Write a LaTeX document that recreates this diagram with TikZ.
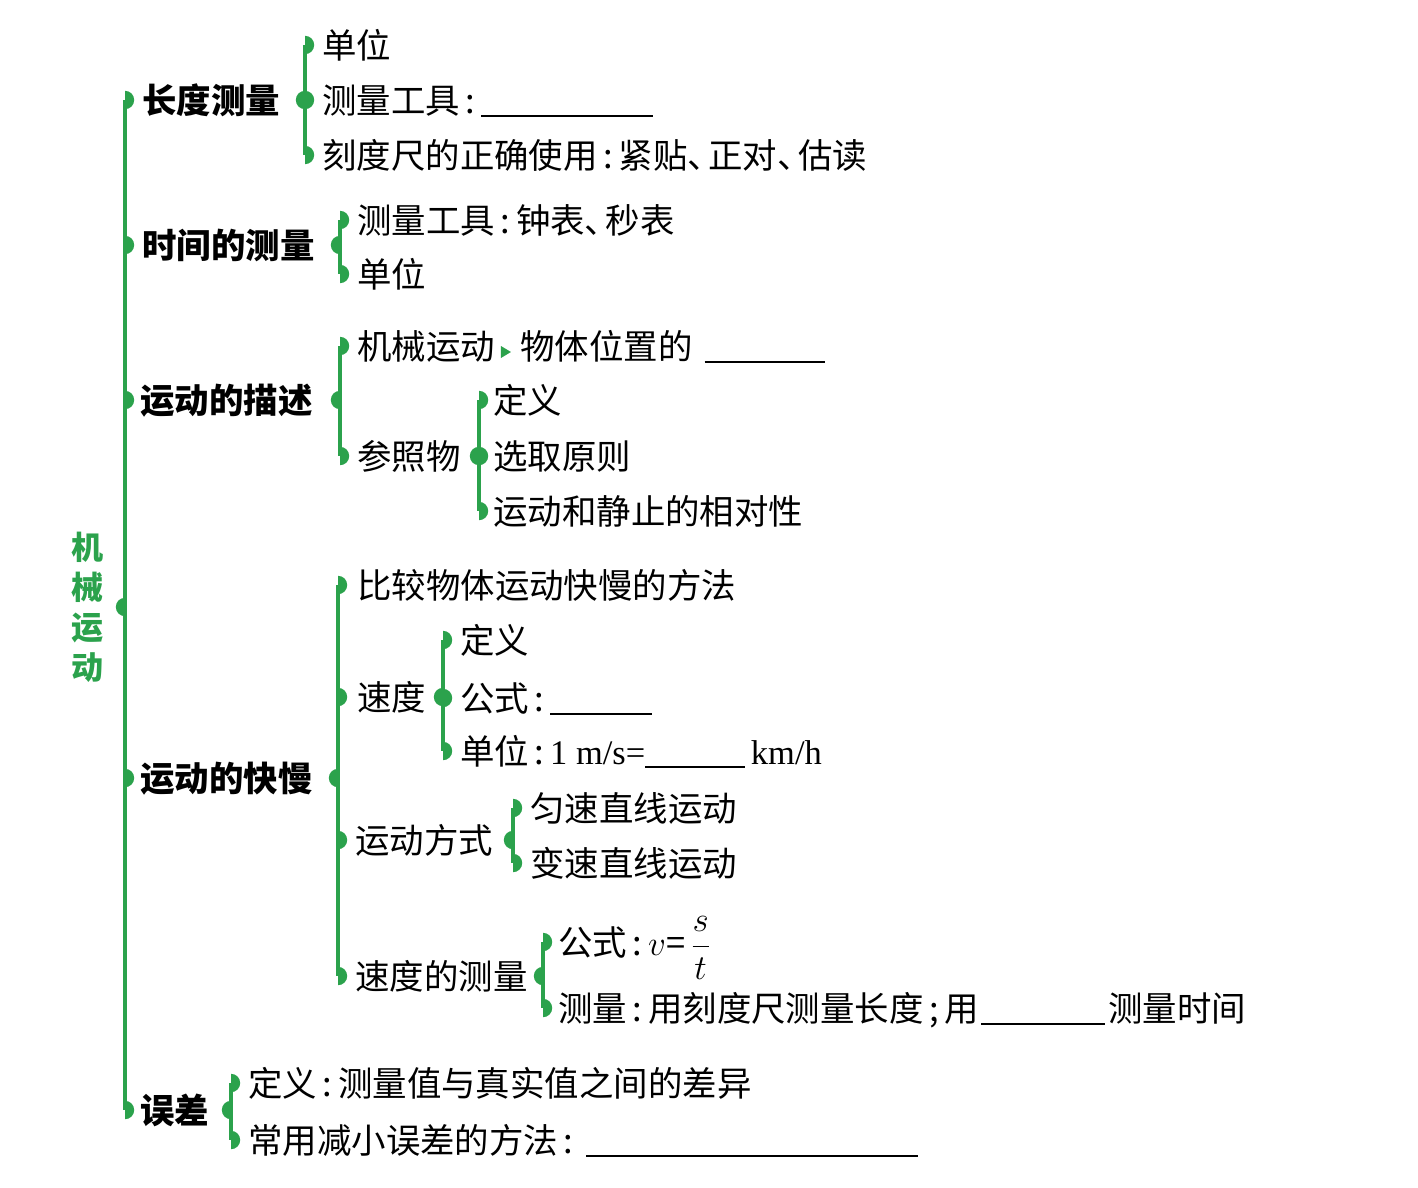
\documentclass[tikz,border=0pt]{standalone}
\usepackage{fontspec}
\setmainfont{Liberation Serif}
\newfontfamily\cjk{Noto Sans CJK SC}
\definecolor{cTree}{HTML}{2BA24C}
\newcommand{\blank}[1]{\rule[-0.12em]{#1}{0.5mm}}
\newcommand{\dun}{、\hspace{-0.4em}}
\tikzset{
  base/.style ={anchor=west, inner sep=0pt, text height=21.5pt, text depth=3pt},
  head/.style ={base, font=\cjk\bfseries\fontsize{24.5}{29}\selectfont},
  item/.style ={base, font=\cjk\fontsize{24.5}{29}\selectfont},
  title/.style={font=\cjk\bfseries\fontsize{22.8}{28.4}\selectfont, text=cTree,
                align=center, inner sep=0pt},
  brk/.style  ={draw=cTree, line width=0.9mm},
  rb/.pic     ={\fill[cTree] (0,2.3mm) arc[start angle=90,end angle=-90,radius=2.3mm] -- cycle;},
  lb/.pic     ={\fill[cTree] (0,2.3mm) arc[start angle=90,end angle=270,radius=2.3mm] -- cycle;},
}

\begin{document}
\begin{tikzpicture}[x=0.25mm, y=-0.25mm]
\useasboundingbox (0,0) rectangle (1418,1188);

\node[title] (root) at (88,607) {机\\械\\运\\动};

% first level
\node[head] (len)  at (142,100) {长度测量};
\node[head] (time) at (142,245) {时间的测量};
\node[head] (desc) at (140,400) {运动的描述};
\node[head] (fast) at (140,778) {运动的快慢};
\node[head] (err)  at (140,1110) {误差};

% length
\node[item] (lenA) at (322,45)  {单位};
\node[item] (lenB) at (322,100) {测量工具\,:\,\blank{43mm}};
\node[item] (lenC) at (322,155) {刻度尺的正确使用\,:\,紧贴\dun 正对\dun 估读};

% time
\node[item] (timeA) at (357,220) {测量工具\,:\,钟表\dun 秒表};
\node[item] (timeB) at (357,274) {单位};

% description
\node[item] (descA) at (357,346) {机械运动};
\node[item] (posn)  at (520,346) {物体位置的\hspace{0.35em}\blank{30mm}};
\node[item] (descB) at (357,456) {参照物};
\node[item] (refA)  at (493,400) {定义};
\node[item] (refB)  at (493,456) {选取原则};
\node[item] (refC)  at (493,511) {运动和静止的相对性};

% speed
\node[item] (fastA) at (357,585) {比较物体运动快慢的方法};
\node[item] (fastB) at (357,697) {速度};
\node[item] (fastC) at (355,840) {运动方式};
\node[item] (fastD) at (355,976) {速度的测量};
\node[item] (velA)  at (460,640) {定义};
\node[item] (velB)  at (460,698) {公式\,:\,\blank{25.5mm}};
\node[item] (velC)  at (460,751) {单位\,:\,{\rmfamily 1 m/s=}\blank{25mm}\,{\rmfamily km/h}};
\node[item] (modeA) at (530,808) {匀速直线运动};
\node[item] (modeB) at (530,863) {变速直线运动};
\node[item] (measA) at (558,942) {公式\,:\,$v$=\,$\displaystyle\frac{s}{t}$};
\node[item] (measB) at (558,1008) {测量\,:\,用刻度尺测量长度\,;\,用\hspace{0.05em}\blank{31mm}\hspace{0.1em}测量时间};

% error
\node[item] (errA) at (248,1083) {定义\,:\,测量值与真实值之间的差异};
\node[item] (errB) at (248,1140) {常用减小误差的方法\,:\,\hspace{0.2em}\blank{83mm}};

% bracket positions
\coordinate (kMain) at (125,0); \coordinate (kLen)  at (305,0);
\coordinate (kTime) at (340,0); \coordinate (kDesc) at (340,0);
\coordinate (kRef)  at (479,0); \coordinate (kFast) at (338,0);
\coordinate (kVel)  at (443,0); \coordinate (kMode) at (513,0);
\coordinate (kMeas) at (543,0); \coordinate (kErr)  at (231,0);

\draw[brk] (kMain |- len.west) -- (kMain |- err.west);
\pic at (kMain |- root) {lb};
\pic at (kMain |- len.west) {rb}; \pic at (kMain |- time.west) {rb};
\pic at (kMain |- desc.west) {rb}; \pic at (kMain |- fast.west) {rb};
\pic at (kMain |- err.west) {rb};

\draw[brk] (kLen |- lenA.west) -- (kLen |- lenC.west);
\pic at (kLen |- len.west) {lb};
\pic at (kLen |- lenA.west) {rb}; \pic at (kLen |- lenB.west) {rb}; \pic at (kLen |- lenC.west) {rb};

\draw[brk] (kTime |- timeA.west) -- (kTime |- timeB.west);
\pic at (kTime |- time.west) {lb};
\pic at (kTime |- timeA.west) {rb}; \pic at (kTime |- timeB.west) {rb};

\draw[brk] (kDesc |- descA.west) -- (kDesc |- descB.west);
\pic at (kDesc |- desc.west) {lb};
\pic at (kDesc |- descA.west) {rb}; \pic at (kDesc |- descB.west) {rb};
\fill[cTree] ([xshift=1.4mm,yshift=-1.5mm]descA.east) -- ++(0,1.5mm) -- ++(2.5mm,-1.5mm)
  -- ++(-2.5mm,-1.5mm) -- cycle;

\draw[brk] (kRef |- refA.west) -- (kRef |- refC.west);
\pic at (kRef |- descB.west) {lb};
\pic at (kRef |- refA.west) {rb}; \pic at (kRef |- refB.west) {rb}; \pic at (kRef |- refC.west) {rb};

\draw[brk] (kFast |- fastA.west) -- (kFast |- fastD.west);
\pic at (kFast |- fast.west) {lb};
\pic at (kFast |- fastA.west) {rb}; \pic at (kFast |- fastB.west) {rb};
\pic at (kFast |- fastC.west) {rb}; \pic at (kFast |- fastD.west) {rb};

\draw[brk] (kVel |- velA.west) -- (kVel |- velC.west);
\pic at (kVel |- fastB.west) {lb};
\pic at (kVel |- velA.west) {rb}; \pic at (kVel |- velB.west) {rb}; \pic at (kVel |- velC.west) {rb};

\draw[brk] (kMode |- modeA.west) -- (kMode |- modeB.west);
\pic at (kMode |- fastC.west) {lb};
\pic at (kMode |- modeA.west) {rb}; \pic at (kMode |- modeB.west) {rb};

\draw[brk] (kMeas |- measA.west) -- (kMeas |- measB.west);
\pic at (kMeas |- fastD.west) {lb};
\pic at (kMeas |- measA.west) {rb}; \pic at (kMeas |- measB.west) {rb};

\draw[brk] (kErr |- errA.west) -- (kErr |- errB.west);
\pic at (kErr |- err.west) {lb};
\pic at (kErr |- errA.west) {rb}; \pic at (kErr |- errB.west) {rb};
\end{tikzpicture}
\end{document}
